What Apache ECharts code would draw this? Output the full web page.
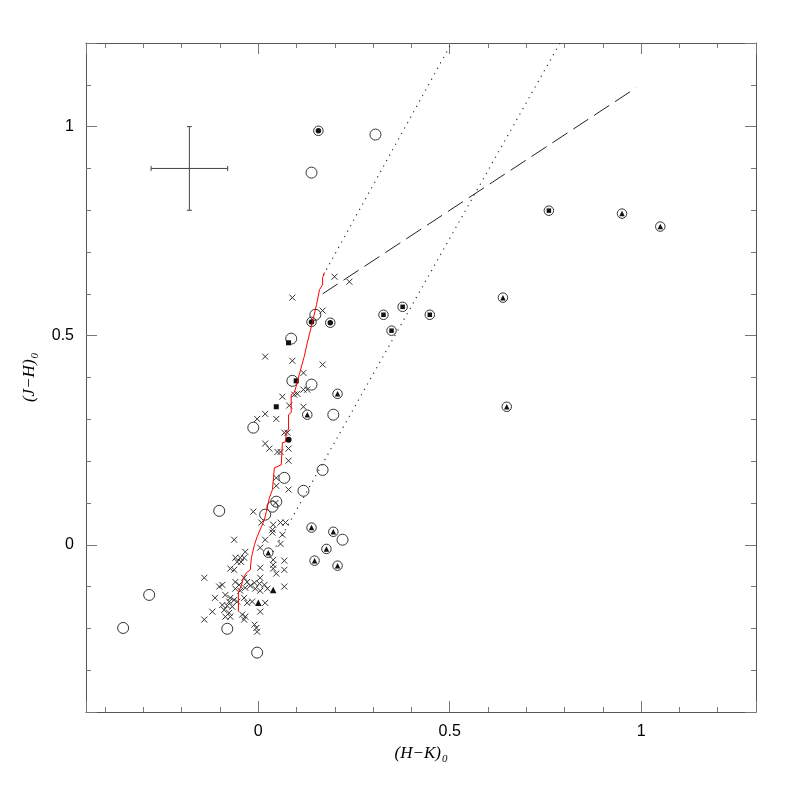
<!DOCTYPE html>
<html>
<head>
<meta charset="utf-8">
<script src="https://cdn.jsdelivr.net/npm/echarts@6/dist/echarts.min.js"></script>
<style>
  html, body { margin: 0; padding: 0; background: #fff; }
  #chart { width: 797px; height: 797px; }
</style>
</head>
<body>
<div id="chart"></div>
<script>
// (H-K)0 , (J-H)0 pairs
const crosses = [
  [0.199,0.641],[0.238,0.629],[0.089,0.591],[0.168,0.560],[0.018,0.450],[0.089,0.440],
  [0.168,0.431],[0.118,0.411],[0.118,0.371],[0.128,0.371],[0.063,0.354],[0.094,0.359],
  [0.102,0.361],[0.081,0.333],[0.118,0.330],[0.018,0.313],[-0.003,0.301],[0.047,0.301],
  [0.068,0.268],[0.076,0.268],[0.018,0.242],[0.029,0.230],[0.050,0.222],[0.058,0.222],
  [0.079,0.230],[0.079,0.201],[0.047,0.160],[0.047,0.141],[0.079,0.132],[0.045,0.100],
  [-0.013,0.079],[0.008,0.053],[0.039,0.048],[0.058,0.053],[0.071,0.053],[0.037,0.036],
  [0.037,0.029],[0.063,0.024],
  [-0.063,0.012],[0.018,0.012],[0.058,0.002],[0.005,-0.007],[-0.034,-0.017],[-0.060,-0.031],
  [-0.047,-0.031],[-0.037,-0.031],[-0.055,-0.041],[-0.045,-0.041],[0.039,-0.036],[0.039,-0.048],
  [0.039,-0.057],[0.068,-0.038],[-0.073,-0.057],[-0.063,-0.060],[0.005,-0.055],[0.068,-0.060],
  [-0.141,-0.079],[-0.037,-0.079],[0.005,-0.079],[0.047,-0.069],[-0.060,-0.089],[-0.029,-0.089],
  [-0.010,-0.091],[-0.050,-0.096],[0.003,-0.093],[0.016,-0.096],[-0.102,-0.100],[-0.094,-0.096],
  [-0.021,-0.098],[-0.060,-0.105],[-0.034,-0.103],[-0.008,-0.105],[0.024,-0.105],[0.068,-0.100],
  [-0.047,-0.110],[0.005,-0.110],[-0.086,-0.120],[-0.113,-0.127],[-0.073,-0.127],[-0.037,-0.127],
  [-0.063,-0.132],[-0.076,-0.136],[-0.055,-0.136],[-0.029,-0.139],[-0.016,-0.136],[0.018,-0.139],
  [-0.094,-0.144],[-0.081,-0.146],[-0.068,-0.148],[-0.120,-0.160],[-0.089,-0.156],[-0.076,-0.163],
  [-0.042,-0.167],[0.005,-0.160],[-0.086,-0.172],[-0.073,-0.172],[-0.034,-0.172],[-0.037,-0.179],
  [-0.141,-0.179],[-0.010,-0.191],[-0.005,-0.199],[-0.003,-0.208]
];
const openCircles = [
  [0.306,0.981],[0.139,0.890],[0.149,0.550],[0.139,0.383],[0.196,0.311],[-0.013,0.280],
  [0.068,0.160],[0.168,0.179],[0.118,0.129],[0.047,0.103],[0.037,0.091],[0.018,0.072],
  [-0.102,0.081],[0.220,0.012],[-0.081,-0.201],[-0.003,-0.258],[-0.285,-0.120],[-0.353,-0.199],
  [0.086,0.493],[0.089,0.392]
];
const circledDots = [[0.157,0.990],[0.139,0.533],[0.188,0.531]];
const circledSquares = [[0.327,0.550],[0.377,0.569],[0.348,0.512],[0.448,0.550],[0.759,0.799]];
const circledTriangles = [
  [0.207,0.361],[0.128,0.311],[0.026,-0.019],[0.139,0.041],[0.196,0.031],[0.178,-0.010],
  [0.147,-0.038],[0.207,-0.050],[0.639,0.591],[0.950,0.792],[1.050,0.761],[0.649,0.330]
];
const filledSquares = [[0.079,0.483],[0.099,0.392],[0.047,0.330]];
const filledDots = [[0.079,0.251]];
const filledTriangles = [[0.039,-0.108],[0.000,-0.139]];

// intrinsic dwarf locus (red)
const dwarfLocus = [
  [0.173,0.651],[0.168,0.639],[0.168,0.622],[0.160,0.610],[0.152,0.574],[0.141,0.531],
  [0.128,0.483],[0.120,0.450],[0.107,0.407],[0.102,0.388],[0.094,0.364],[0.086,0.359],
  [0.086,0.316],[0.079,0.311],[0.079,0.275],[0.073,0.268],[0.071,0.246],[0.063,0.244],
  [0.060,0.191],[0.042,0.184],[0.037,0.132],[0.029,0.112],[0.021,0.079],[0.016,0.060],
  [0.008,0.043],[-0.003,0.019],[-0.010,0.000],[-0.018,-0.031],[-0.021,-0.060],[-0.031,-0.067],
  [-0.039,-0.079],[-0.042,-0.091],[-0.052,-0.115],[-0.052,-0.160]
];
// reddening vectors (dotted) and CTTS locus (dashed)
const reddeningUpper = [[0.170,0.645],[0.505,1.200]];
const reddeningLower = [[0.030,-0.030],[0.788,1.200]];
const cttsLocus = [[0.168,0.600],[0.987,1.093]];
// typical error bar
const errCenter = [-0.18, 0.90];
const errHalf = [0.10, 0.10];

const xRange = [-0.45, 1.3];
const yRange = [-0.4, 1.2];

const chart = echarts.init(document.getElementById('chart'), null, {renderer: 'canvas'});

const axisColor = '#555';
const labelFmt = function (v) {
  return Math.abs(v * 2 - Math.round(v * 2)) < 1e-6 ? String(+v.toFixed(2)) : '';
};
function makeAxis(pos, range, showLabel, nameText, gap) {
  return {
    type: 'value',
    position: pos,
    min: range[0],
    max: range[1],
    minInterval: 0.5,
    maxInterval: 0.5,
    name: nameText || '',
    nameLocation: 'middle',
    nameGap: gap || 0,
    nameTextStyle: {
      color: '#000',
      rich: {
        a: {fontFamily: 'Liberation Serif', fontStyle: 'italic', fontSize: 17, color: '#000'},
        b: {fontFamily: 'Liberation Serif', fontStyle: 'italic', fontSize: 11, color: '#000', padding: [12, 0, 0, 1]}
      }
    },
    axisLine: {show: true, onZero: false, lineStyle: {color: axisColor, width: 1}},
    axisTick: {show: true, inside: true, length: 11, lineStyle: {color: '#777', width: 1}},
    minorTick: {show: true, splitNumber: 5, length: 5, lineStyle: {color: '#777', width: 1}},
    splitLine: {show: false},
    minorSplitLine: {show: false},
    axisLabel: {
      show: showLabel,
      formatter: labelFmt,
      color: '#000',
      fontFamily: 'Liberation Sans',
      fontSize: 16,
      margin: 12,
      showMinLabel: true,
      showMaxLabel: true
    }
  };
}

function scatter(data, symbol, size, filled, z) {
  return {
    type: 'scatter',
    data: data,
    symbol: symbol,
    symbolSize: size,
    silent: true,
    z: z || 3,
    itemStyle: filled
      ? {color: '#111', borderWidth: 0, opacity: 1}
      : {color: 'rgba(0,0,0,0)', borderColor: '#333', borderWidth: 1, opacity: 1}
  };
}
function line(data, color, type, width, z) {
  return {
    type: 'line',
    data: data,
    showSymbol: false,
    symbol: 'none',
    silent: true,
    z: z || 2,
    lineStyle: {color: color, type: type, width: width}
  };
}

const crossPath = 'path://M0,0L10,10M10,0L0,10';

const option = {
  animation: false,
  backgroundColor: '#fff',
  grid: {left: 86, right: 41, top: 43, bottom: 85, containLabel: false},
  xAxis: [
    makeAxis('bottom', xRange, true, '{a|(H−K)}{b|0}', 26),
    makeAxis('top', xRange, false)
  ],
  yAxis: [
    makeAxis('left', yRange, true, '{a|(J−H)}{b|0}', 42),
    makeAxis('right', yRange, false)
  ],
  series: [
    line(dwarfLocus, '#ff0000', 'solid', 1, 7),
    line(reddeningUpper, '#333', [1.2, 5], 1.2),
    line(reddeningLower, '#333', [1.2, 5], 1.2),
    line(cttsLocus, '#222', [18, 7], 1),
    scatter(crosses, crossPath, 6, false, 3),
    scatter(openCircles, 'circle', 11, false, 4),
    scatter(circledDots.concat(circledSquares, circledTriangles), 'circle', 9.5, false, 4),
    scatter(circledDots, 'circle', 5.5, true, 5),
    scatter(circledSquares, 'rect', 4.5, true, 5),
    scatter(circledTriangles, 'triangle', 5.5, true, 5),
    scatter(filledSquares, 'rect', 5, true, 5),
    scatter(filledDots, 'circle', 6, true, 5),
    scatter(filledTriangles, 'triangle', 6.5, true, 5),
    {
      type: 'custom',
      silent: true,
      z: 6,
      data: [[errCenter[0], errCenter[1], errHalf[0], errHalf[1]]],
      renderItem: function (params, api) {
        const cx = api.value(0), cy = api.value(1), dx = api.value(2), dy = api.value(3);
        const l = api.coord([cx - dx, cy]), r = api.coord([cx + dx, cy]);
        const t = api.coord([cx, cy + dy]), b = api.coord([cx, cy - dy]);
        const cap = 2.5;
        const st = {stroke: '#444', lineWidth: 1};
        const seg = (x1, y1, x2, y2) => ({type: 'line', shape: {x1, y1, x2, y2}, style: st});
        return {
          type: 'group',
          children: [
            seg(l[0], l[1], r[0], r[1]),
            seg(t[0], t[1], b[0], b[1]),
            seg(l[0], l[1] - cap, l[0], l[1] + cap),
            seg(r[0], r[1] - cap, r[0], r[1] + cap),
            seg(t[0] - cap, t[1], t[0] + cap, t[1]),
            seg(b[0] - cap, b[1], b[0] + cap, b[1])
          ]
        };
      }
    }
  ]
};
chart.setOption(option);
</script>
</body>
</html>
